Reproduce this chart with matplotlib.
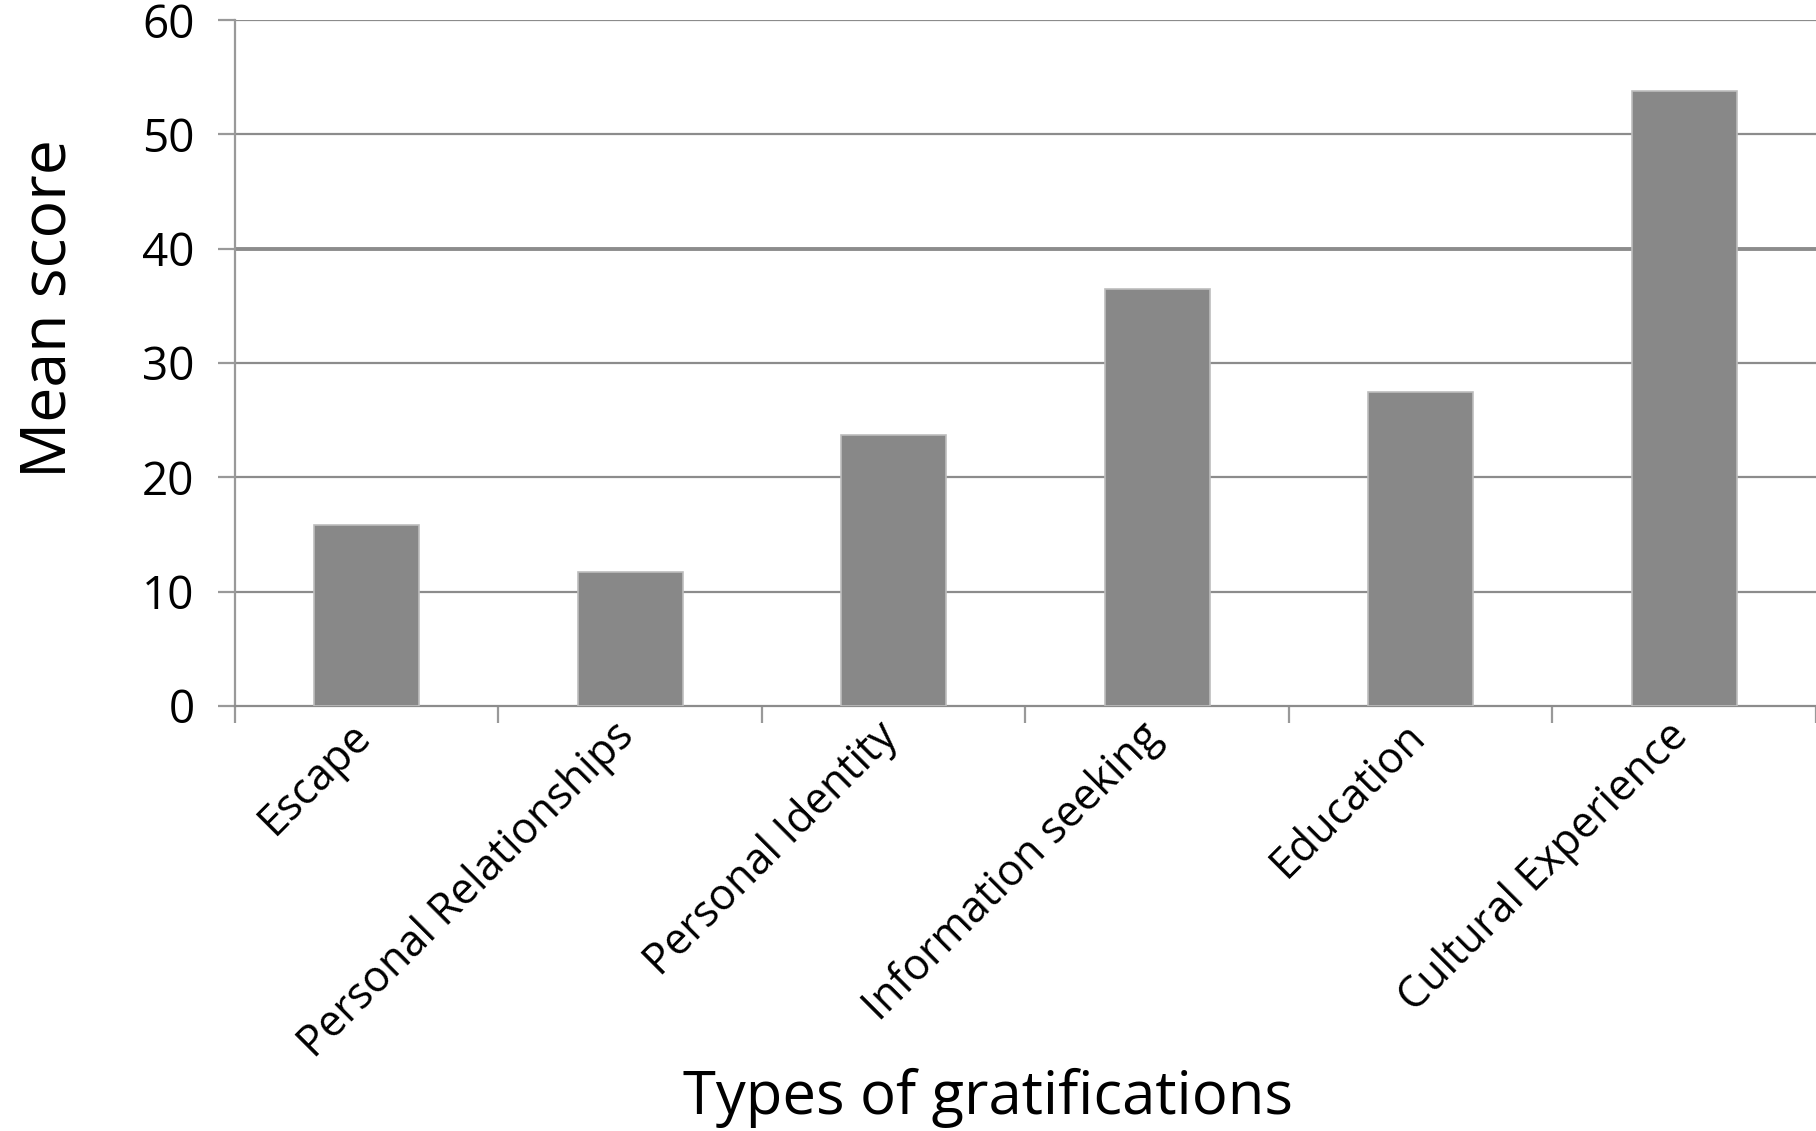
import matplotlib.pyplot as plt
import matplotlib.transforms as mtransforms
import numpy as np

plt.rcParams['font.family'] = ['Open Sans', 'DejaVu Sans']

categories = ["Escape", "Personal Relationships", "Personal Identity",
              "Information seeking", "Education", "Cultural Experience"]
mean_scores = [15.8, 11.7, 23.7, 36.5, 27.5, 53.8]
y_ticks = [0, 10, 20, 30, 40, 50, 60]

fig = plt.figure(figsize=(18.16, 11.31), dpi=100)
ax = fig.add_axes([0.1294, 0.3758, 0.8706, 0.6065])

x = np.arange(len(categories))
ax.bar(x, mean_scores, width=0.4, color="#888888", edgecolor="#bdbdbd",
       linewidth=1.2, zorder=3)

ax.set_xlim(-0.5, len(categories) - 0.5)
ax.set_ylim(0, 60)

# horizontal gridlines, the 40 line a bit heavier
for v in y_ticks[1:]:
    ax.axhline(v, color="#8c8c8c", lw=2.8 if v == 40 else 1.6, zorder=1)

for side in ["top", "right"]:
    ax.spines[side].set_visible(False)
ax.spines["left"].set_color("#999999")
ax.spines["left"].set_linewidth(1.6)
ax.spines["bottom"].set_color("#8c8c8c")
ax.spines["bottom"].set_linewidth(1.6)

ax.set_yticks(y_ticks)
ax.set_yticklabels([str(v) for v in y_ticks], fontsize=33)
ax.tick_params(axis="y", length=12, width=1.6, color="#999999", pad=17)

# ticks on category boundaries, labels under bar centres
ax.set_xticks(np.arange(len(categories) + 1) - 0.5, minor=True)
ax.tick_params(axis="x", which="minor", length=12, width=1.6, color="#999999")
ax.set_xticks(x)
ax.set_xticklabels(categories, rotation=45, ha="right", va="top",
                   rotation_mode="anchor", fontsize=31)
ax.tick_params(axis="x", which="major", length=0, pad=6)
shift = mtransforms.ScaledTranslation(-0.18, 0, fig.dpi_scale_trans)
for lbl in ax.get_xticklabels():
    lbl.set_transform(lbl.get_transform() + shift)

fig.text(0.027, 0.7268, "Mean score", rotation=90, fontsize=45,
         ha="center", va="center")
fig.text(0.544, 0.015, "Types of gratifications", fontsize=43,
         ha="center", va="baseline")

fig.savefig("out.png", dpi=100)
